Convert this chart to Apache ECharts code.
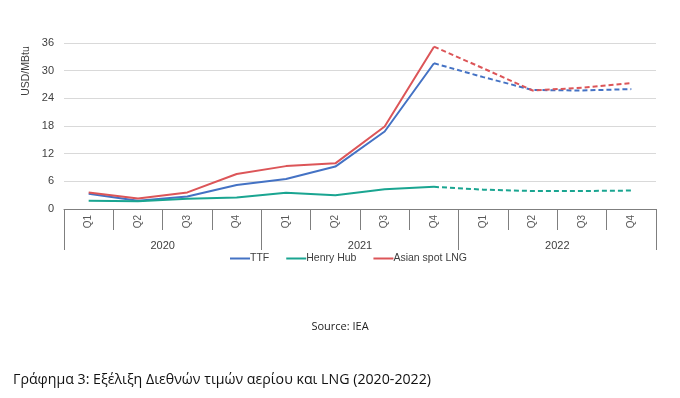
<!DOCTYPE html>
<html>
<head>
<meta charset="utf-8">
<script src="https://cdn.jsdelivr.net/npm/echarts@6/dist/echarts.min.js"></script>
<style>
html,body{margin:0;padding:0;background:#fff;}
#c{width:680px;height:398px;}
</style>
</head>
<body>
<div id="c"></div>
<script>
const quarters = ['Q1','Q2','Q3','Q4','Q1','Q2','Q3','Q4','Q1','Q2','Q3','Q4'];
const years = ['2020','2021','2022'];
const ttf = [3.3, 1.8, 2.7, 5.2, 6.5, 9.2, 16.8, 31.6, 28.6, 25.8, 25.7, 26.0];
const henryHub = [1.8, 1.7, 2.2, 2.5, 3.5, 3.0, 4.3, 4.8, 4.2, 3.9, 3.9, 4.0];
const asianLng = [3.6, 2.3, 3.6, 7.6, 9.3, 9.9, 17.9, 35.2, 30.5, 25.7, 26.3, 27.3];
const yTicks = [0, 6, 12, 18, 24, 30, 36];
const lastActual = 7; // Q4 2021: after this, values are forecasts (dashed)

const seriesDefs = [
  {name: 'TTF', data: ttf, color: '#4472c4'},
  {name: 'Henry Hub', data: henryHub, color: '#1aa591'},
  {name: 'Asian spot LNG', data: asianLng, color: '#dc5558'}
];

const series = [];
seriesDefs.forEach(d => {
  series.push({
    name: d.name, type: 'line', symbol: 'none', xAxisIndex: 0,
    data: d.data.map((v, i) => i <= lastActual ? v : null),
    lineStyle: {color: d.color, width: 2}, itemStyle: {color: d.color}
  });
});
seriesDefs.forEach(d => {
  series.push({
    name: d.name, type: 'line', symbol: 'none', xAxisIndex: 0,
    data: d.data.map((v, i) => i >= lastActual ? v : null),
    lineStyle: {color: d.color, width: 2, type: [5, 3]}, itemStyle: {color: d.color}
  });
});

const font = 'Liberation Sans, Arial, sans-serif';
const chart = echarts.init(document.getElementById('c'), null, {renderer: 'canvas'});
chart.setOption({
  animation: false,
  textStyle: {fontFamily: font},
  grid: {left: 64, right: 24, top: 43, bottom: 189, containLabel: false},
  legend: {
    data: seriesDefs.map(d => d.name),
    top: 248, left: 225,
    itemWidth: 20, itemHeight: 10, itemGap: 17,
    textStyle: {fontFamily: font, fontSize: 10.5, color: '#404040', padding: [0, 0, 0, -5]},
    icon: 'path://M0,4 L20,4 L20,6 L0,6 Z'
  },
  xAxis: [
    {
      type: 'category', data: quarters, position: 'bottom',
      axisLine: {show: true, lineStyle: {color: '#7f7f7f', width: 1}},
      axisTick: {show: true, interval: 0, length: 21, lineStyle: {color: '#7f7f7f'}},
      axisLabel: {interval: 0, rotate: 90, margin: 6, fontSize: 10, color: '#595959', fontFamily: font}
    },
    {
      type: 'category', data: years, position: 'bottom',
      axisLine: {show: false},
      axisTick: {show: true, interval: 0, length: 41, lineStyle: {color: '#7f7f7f'}},
      axisLabel: {interval: 0, margin: 31, fontSize: 11, color: '#404040', fontFamily: font}
    }
  ],
  yAxis: {
    type: 'value', min: yTicks[0], max: yTicks[yTicks.length - 1], interval: 6,
    axisLine: {show: false}, axisTick: {show: false},
    axisLabel: {margin: 10, fontSize: 11, color: '#404040', fontFamily: font},
    splitLine: {lineStyle: {color: '#d9d9d9', width: 1}}
  },
  graphic: [
    {type: 'text', x: 26, y: 71, rotation: Math.PI / 2,
     style: {text: 'USD/MBtu', fontSize: 10.5, fontFamily: font, fill: '#404040', align: 'center', verticalAlign: 'middle'}},
    {type: 'text', x: 340, y: 327,
     style: {text: 'Source: IEA', fontSize: 11, fontFamily: 'Open Sans, sans-serif', fill: '#222', align: 'center', verticalAlign: 'middle'}},
    {type: 'text', x: 13, y: 380,
     style: {text: 'Γράφημα 3: Εξέλιξη Διεθνών τιμών αερίου και LNG (2020-2022)', fontSize: 14.2, fontFamily: 'Open Sans, sans-serif', fill: '#111', align: 'left', verticalAlign: 'middle'}}
  ],
  series: series
});
</script>
</body>
</html>
